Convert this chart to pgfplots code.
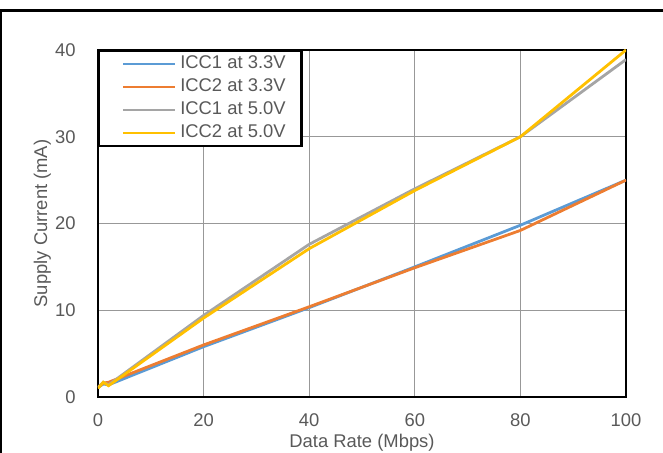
\documentclass[border=0pt]{standalone}
\usepackage{pgfplots}
\pgfplotsset{compat=1.18}
\usepackage{fontspec}
\setmainfont{Liberation Sans}
\definecolor{sblue}{HTML}{5B9BD5}
\definecolor{sorange}{HTML}{ED7D31}
\definecolor{sgray}{HTML}{A5A5A5}
\definecolor{syellow}{HTML}{FFC000}
\definecolor{txt}{HTML}{595959}
\definecolor{gridc}{HTML}{989898}
\begin{document}
\begin{tikzpicture}
\useasboundingbox (-49pt,-28pt) rectangle (282.5pt,198.5pt);
\begin{axis}[
  scale only axis,
  width=264pt, height=173.5pt,
  xmin=0, xmax=100, ymin=0, ymax=40,
  xtick={0,20,...,100}, ytick={0,10,...,40},
  major tick length=0pt,
  grid=major,
  major grid style={draw=gridc, line width=0.65pt},
  axis line style={line width=1.25pt, black},
  /pgf/number format/assume math mode=true,
  tick label style={font=\fontsize{9.2}{11}\selectfont, text=txt},
  xticklabel style={yshift=-5pt},
  yticklabel style={xshift=-7.7pt},
  xlabel={Data Rate (Mbps)},
  ylabel={Supply Current (mA)},
  label style={font=\fontsize{9.2}{11}\selectfont, text=txt},
  xlabel style={at={(axis description cs:0.5,0)}, anchor=north, yshift=-15pt},
  ylabel style={at={([xshift=-20pt]axis description cs:0,0.5)}, anchor=south, rotate=0},
  legend cell align=left,
  legend image code/.code={\path (0pt,0pt); \draw[#1, line width=1.25pt] (4.2pt,0pt) -- (30.2pt,0pt);},
  legend style={at={(0,1)}, anchor=north west, draw=black, line width=1.25pt,
    inner xsep=7pt, inner ysep=1pt, row sep=0.85pt, column sep=1pt,
    font=\fontsize{9.2}{11}\selectfont, text=txt,
    nodes={inner sep=1pt, text height=6.7pt, text depth=2pt}},
  every axis plot/.append style={line width=1.4pt, no markers},
]
\addplot[color=sblue] coordinates {(0,1.1) (1,1.5) (2,1.4) (20,5.8) (40,10.3) (60,15.0) (80,19.8) (100,25.0)};
\addlegendentry{ICC1 at 3.3V}
\addplot[color=sorange] coordinates {(0,1.1) (1,1.6) (2,1.7) (20,6.0) (40,10.4) (60,14.9) (80,19.2) (100,25.0)};
\addlegendentry{ICC2 at 3.3V}
\addplot[color=sgray] coordinates {(0,1.1) (1,1.7) (2,1.4) (20,9.4) (40,17.6) (60,24.0) (80,30.0) (100,38.9)};
\addlegendentry{ICC1 at 5.0V}
\addplot[color=syellow] coordinates {(0,1.0) (1,1.7) (2,1.3) (20,9.1) (40,17.1) (60,23.8) (80,30.0) (100,40.0)};
\addlegendentry{ICC2 at 5.0V}
\end{axis}
\draw[line width=1.2pt] (-48.35pt,-40pt) -- (-48.35pt,193.25pt) -- (300pt,193.25pt);
\end{tikzpicture}
\end{document}
